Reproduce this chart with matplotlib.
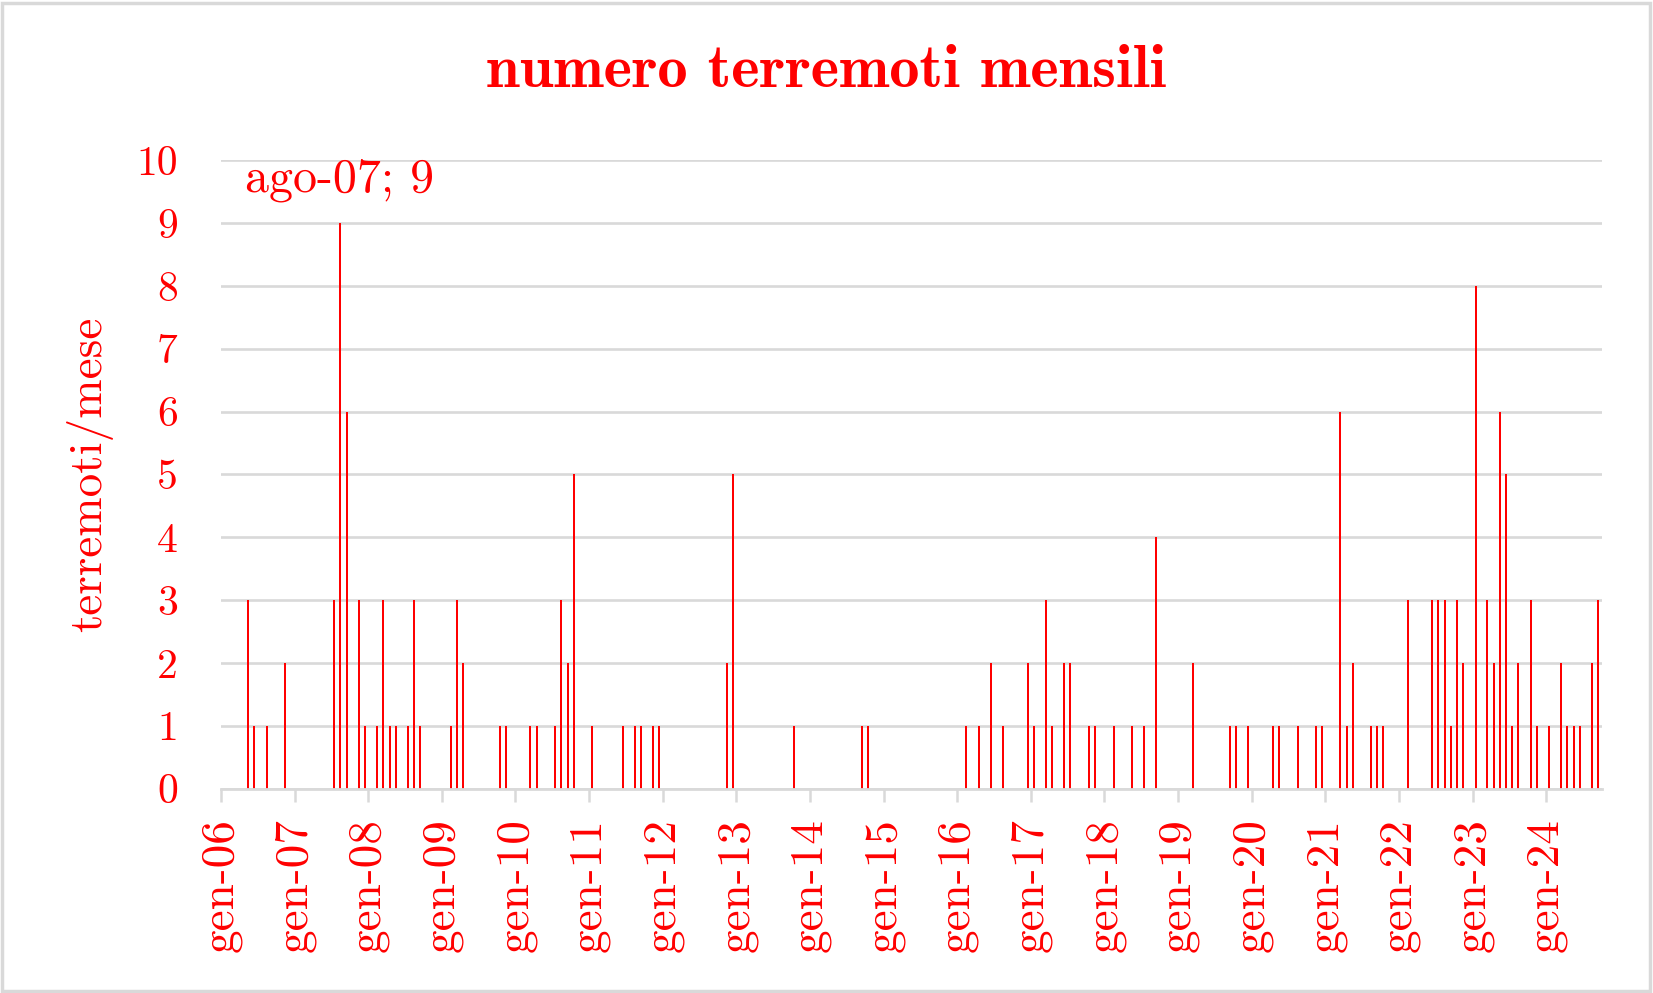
import matplotlib
matplotlib.use("Agg")
import matplotlib.pyplot as plt
import matplotlib.dates as mdates
import pandas as pd
from matplotlib.patches import Rectangle

# ---- data ----
event_months = [
    "2006-05", "2006-06", "2006-08", "2006-11",
    "2007-07", "2007-08", "2007-09", "2007-11", "2007-12",
    "2008-02", "2008-03", "2008-04", "2008-05", "2008-07", "2008-08", "2008-09",
    "2009-02", "2009-03", "2009-04", "2009-10", "2009-11",
    "2010-03", "2010-04", "2010-07", "2010-08", "2010-09", "2010-10",
    "2011-01", "2011-06", "2011-08", "2011-09", "2011-11", "2011-12",
    "2012-11", "2012-12",
    "2013-10",
    "2014-09", "2014-10",
    "2016-02", "2016-04", "2016-06", "2016-08", "2016-12",
    "2017-01", "2017-03", "2017-04", "2017-06", "2017-07", "2017-10", "2017-11",
    "2018-02", "2018-05", "2018-07", "2018-09",
    "2019-03", "2019-09", "2019-10", "2019-12",
    "2020-04", "2020-05", "2020-08", "2020-11", "2020-12",
    "2021-03", "2021-04", "2021-05", "2021-08", "2021-09", "2021-10",
    "2022-02", "2022-06", "2022-07", "2022-08", "2022-09", "2022-10", "2022-11",
    "2023-01", "2023-03", "2023-04", "2023-05", "2023-06", "2023-07", "2023-08",
    "2023-10", "2023-11",
    "2024-01", "2024-03", "2024-04", "2024-05", "2024-06", "2024-08", "2024-09",
]
counts = [
    3, 1, 1, 2,
    3, 9, 6, 3, 1,
    1, 3, 1, 1, 1, 3, 1,
    1, 3, 2, 1, 1,
    1, 1, 1, 3, 2, 5,
    1, 1, 1, 1, 1, 1,
    2, 5,
    1,
    1, 1,
    1, 1, 2, 1, 2,
    1, 3, 1, 2, 2, 1, 1,
    1, 1, 1, 4,
    2, 1, 1, 1,
    1, 1, 1, 1, 1,
    6, 1, 2, 1, 1, 1,
    3, 3, 3, 3, 1, 3, 2,
    8, 3, 2, 6, 5, 1, 2,
    3, 1,
    1, 2, 1, 1, 1, 2, 3,
]
tick_years = list(range(2006, 2025))
tick_labels = ["gen-%02d" % (y % 100) for y in tick_years]
y_ticks = list(range(0, 11))
title_text = "numero terremoti mensili"
ylabel_text = "terremoti/mese"
annotation_text = "ago-07; 9"

RED = "#FF0000"
GRID = "#D9D9D9"

plt.rcParams["font.family"] = ["cmr10", "DejaVu Serif"]
plt.rcParams["axes.formatter.use_mathtext"] = True

fig = plt.figure(figsize=(16.53, 9.93), dpi=100)
ax = fig.add_axes([0.1337, 0.2059, 0.969 - 0.1337, 0.8386 - 0.2059])

dates = pd.to_datetime(event_months, format="%Y-%m") + pd.Timedelta(days=15)
ax.bar(dates, counts, width=9.9, color=RED, linewidth=0, zorder=3)

ax.set_ylim(0, 10)
ax.set_xlim(pd.Timestamp("2006-01-01"), pd.Timestamp("2024-10-03"))
ax.set_yticks(y_ticks)
ax.set_yticklabels([str(v) for v in y_ticks])

tick_dates = [pd.Timestamp(year=y, month=1, day=1) for y in tick_years]
ax.set_xticks(mdates.date2num(tick_dates))
ax.set_xticklabels(tick_labels, rotation=90)

ax.grid(axis="y", color=GRID, linewidth=1.9, zorder=0)
ax.set_axisbelow(True)
for s in ["left", "right", "top"]:
    ax.spines[s].set_visible(False)
ax.spines["bottom"].set_color(GRID)
ax.spines["bottom"].set_linewidth(2.0)
ax.spines["bottom"].set_zorder(4)

ax.tick_params(axis="y", length=0, pad=31, labelsize=30, labelcolor=RED)
ax.tick_params(axis="x", length=9.5, width=1.8, color=GRID, pad=12,
               labelsize=34, labelcolor=RED)

fig.text(0.5, 0.927, title_text, ha="center", va="center", color=RED,
         fontsize=43.5, family=["cmb10", "DejaVu Serif"], fontweight="bold")
fig.text(0.0542, 0.5227, ylabel_text, ha="center", va="center", rotation=90,
         color=RED, fontsize=34)
ax.text(0.0175, 0.9687, annotation_text, transform=ax.transAxes,
        ha="left", va="center", color=RED, fontsize=34.5)

fig.patches.append(Rectangle((0.001, 0.002), 0.997, 0.995, transform=fig.transFigure,
                             fill=False, edgecolor=GRID, linewidth=2.5))

fig.savefig("out.png", dpi=100, facecolor="white")
